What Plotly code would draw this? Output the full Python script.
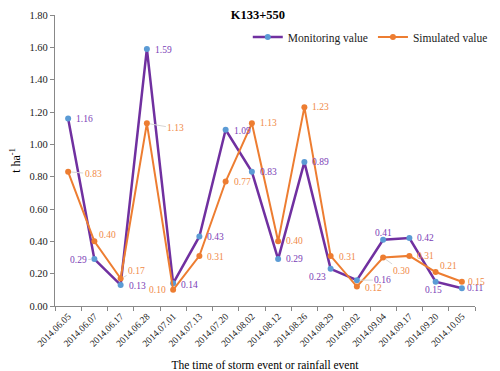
import plotly.graph_objects as go

dates = ["2014.06.05", "2014.06.07", "2014.06.17", "2014.06.28", "2014.07.01", "2014.07.13",
         "2014.07.20", "2014.08.02", "2014.08.12", "2014.08.26", "2014.08.29", "2014.09.02",
         "2014.09.04", "2014.09.17", "2014.09.20", "2014.10.05"]
monitoring = [1.16, 0.29, 0.13, 1.59, 0.14, 0.43, 1.09, 0.83, 0.29, 0.89, 0.23, 0.16, 0.41, 0.42, 0.15, 0.11]
simulated = [0.83, 0.40, 0.17, 1.13, 0.10, 0.31, 0.77, 1.13, 0.40, 1.23, 0.31, 0.12, 0.30, 0.31, 0.21, 0.15]

# label placement: (anchor, xshift, yshift) or ("leader", ax, ay)
mon_pos = [("left", 6, -1), ("leader", -16, 1), ("left", 6, -1), ("left", 6, -1), ("left", 6, -2),
           ("left", 6, -1), ("left", 6, -1), ("left", 6, 0), ("left", 6, 0), ("left", 6, 0),
           ("right", -3, -8), ("leader", 26, 0), ("center", 0, 7), ("left", 6, 0), ("center", -2, -8),
           ("left", 3, 0)]
sim_pos = [("leader", 25, 2), ("left", 3, 6), ("leader", 16, -8), ("leader", 29, 5), ("right", -5, 0),
           ("left", 6, -1), ("left", 6, 0), ("left", 6, 0), ("left", 6, 0), ("left", 6, 0),
           ("left", 6, -1), ("left", 6, -1), ("leader", 18, 13), ("left", 6, 0), ("left", 2, 6),
           ("left", 4, 0)]

PURPLE = "#7030A0"
BLUE = "#5B9BD5"
ORANGE = "#ED7D31"
FONT = "Liberation Serif, Times New Roman, serif"

fig = go.Figure()
fig.add_trace(go.Scatter(x=dates, y=monitoring, name="Monitoring value", mode="lines+markers",
                         line=dict(color=PURPLE, width=2.5), marker=dict(color=BLUE, size=6)))
fig.add_trace(go.Scatter(x=dates, y=simulated, name="Simulated value", mode="lines+markers",
                         line=dict(color=ORANGE, width=2), marker=dict(color=ORANGE, size=6)))

annotations = []
for vals, pos, col in [(monitoring, mon_pos, "#7A3DB5"), (simulated, sim_pos, "#F08A48")]:
    for d, v, p in zip(dates, vals, pos):
        a = dict(x=d, y=v, text="%.2f" % v, font=dict(family=FONT, size=9.5, color=col))
        if p[0] == "leader":
            a.update(showarrow=True, arrowhead=0, arrowwidth=1, arrowcolor="#D5D5D5",
                     ax=p[1], ay=p[2], standoff=3)
        else:
            a.update(showarrow=False, xanchor=p[0], xshift=p[1], yshift=p[2])
        annotations.append(a)

# page body has an 8px margin, so the figure is sized a bit smaller
fig.update_layout(
    width=492, height=363,
    margin=dict(l=47, r=10, t=7, b=65),
    paper_bgcolor="white", plot_bgcolor="white",
    font=dict(family=FONT, size=10, color="#222222"),
    title=dict(text="<b>K133+550</b>", x=0.508, xanchor="center", y=0.994, yanchor="top",
               pad=dict(t=0, b=0), font=dict(family=FONT, size=12.5, color="black")),
    legend=dict(orientation="h", x=0.459, xanchor="left", y=0.924, yanchor="middle",
                font=dict(family=FONT, size=11.5, color="#222222"), bgcolor="rgba(0,0,0,0)"),
    annotations=annotations,
)
fig.update_xaxes(type="category", range=[-0.5, 15.5], tickangle=-45, showgrid=False, automargin=False,
                 showline=True, linecolor="#888888", linewidth=1.2,
                 ticks="outside", tickson="boundaries", ticklen=4, tickcolor="#888888",
                 tickfont=dict(family=FONT, size=9.5, color="#222222"),
                 title=dict(text="The time of storm event or rainfall event",
                            font=dict(family=FONT, size=11.5, color="black"), standoff=13))
fig.update_yaxes(range=[0, 1.8], dtick=0.2, tickformat=".2f", showgrid=False, zeroline=False,
                 automargin=False,
                 showline=True, linecolor="#888888", linewidth=1.2,
                 ticks="outside", ticklen=4, tickcolor="#888888",
                 tickfont=dict(family=FONT, size=10.5, color="#222222"),
                 title=dict(text="t ha<sup>-1</sup>", font=dict(family=FONT, size=12, color="black"),
                            standoff=6))

fig.write_html("out.html")
